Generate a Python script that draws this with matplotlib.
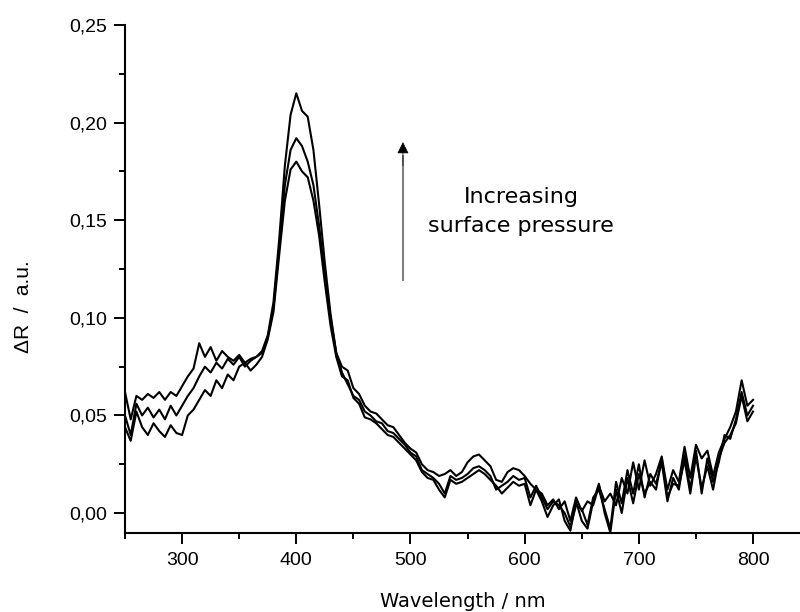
import numpy as np
import matplotlib.pyplot as plt
from matplotlib.ticker import MultipleLocator, FuncFormatter

# wavelength grid (nm)
wl = np.arange(250, 801, 5)

# three reflectance-difference spectra
dr_top = [0.062, 0.048, 0.060, 0.058, 0.061, 0.059, 0.062, 0.058, 0.062, 0.060,
          0.065, 0.070, 0.074, 0.087, 0.080, 0.085, 0.078, 0.083, 0.080, 0.078,
          0.081, 0.077, 0.079, 0.080, 0.083, 0.091, 0.108, 0.140, 0.178, 0.204,
          0.215, 0.206, 0.203, 0.186, 0.158, 0.128, 0.102, 0.082, 0.075, 0.073,
          0.064, 0.061, 0.055, 0.052, 0.051, 0.048, 0.045, 0.044, 0.040, 0.036,
          0.033, 0.031, 0.025, 0.022, 0.021, 0.019, 0.020, 0.022, 0.019, 0.021,
          0.026, 0.029, 0.030, 0.027, 0.024, 0.017, 0.016, 0.021, 0.023, 0.022,
          0.019, 0.015, 0.012, 0.010, 0.004, 0.007, 0.002, 0.006, -0.004, 0.008,
          0.001, 0.006, 0.004, 0.014, 0.006, 0.010, 0.004, 0.018, 0.010, 0.026,
          0.012, 0.027, 0.014, 0.020, 0.029, 0.012, 0.022, 0.016, 0.034, 0.018,
          0.035, 0.028, 0.032, 0.019, 0.031, 0.038, 0.044, 0.052, 0.068, 0.055,
          0.058]
dr_mid = [0.050, 0.040, 0.056, 0.050, 0.054, 0.049, 0.053, 0.048, 0.055, 0.050,
          0.055, 0.060, 0.064, 0.070, 0.075, 0.072, 0.077, 0.074, 0.079, 0.076,
          0.080, 0.075, 0.078, 0.080, 0.082, 0.090, 0.105, 0.136, 0.168, 0.186,
          0.192, 0.188, 0.180, 0.168, 0.147, 0.122, 0.100, 0.082, 0.072, 0.066,
          0.060, 0.058, 0.052, 0.050, 0.047, 0.046, 0.042, 0.041, 0.038, 0.035,
          0.031, 0.029, 0.022, 0.020, 0.018, 0.015, 0.010, 0.019, 0.017, 0.018,
          0.020, 0.023, 0.024, 0.022, 0.019, 0.012, 0.014, 0.016, 0.019, 0.017,
          0.018, 0.008, 0.014, 0.008, 0.002, 0.006, 0.004, 0.000, -0.007, 0.004,
          0.002, -0.006, 0.008, 0.012, 0.002, -0.008, 0.016, 0.005, 0.022, 0.010,
          0.025, 0.008, 0.020, 0.015, 0.026, 0.006, 0.018, 0.012, 0.030, 0.012,
          0.032, 0.010, 0.028, 0.016, 0.026, 0.040, 0.038, 0.048, 0.062, 0.050,
          0.055]
dr_low = [0.044, 0.037, 0.052, 0.044, 0.040, 0.046, 0.042, 0.039, 0.045, 0.041,
          0.040, 0.050, 0.053, 0.058, 0.063, 0.060, 0.068, 0.064, 0.071, 0.068,
          0.075, 0.077, 0.073, 0.076, 0.080, 0.089, 0.103, 0.132, 0.160, 0.176,
          0.180, 0.175, 0.172, 0.160, 0.142, 0.118, 0.096, 0.080, 0.070, 0.068,
          0.059, 0.056, 0.049, 0.048, 0.046, 0.043, 0.040, 0.039, 0.036, 0.033,
          0.030, 0.027, 0.021, 0.018, 0.017, 0.012, 0.008, 0.017, 0.015, 0.016,
          0.018, 0.020, 0.022, 0.020, 0.017, 0.014, 0.010, 0.013, 0.016, 0.014,
          0.015, 0.004, 0.012, 0.006, -0.002, 0.004, 0.007, -0.004, -0.009, 0.006,
          -0.004, -0.008, 0.006, 0.015, 0.000, -0.010, 0.012, 0.000, 0.018, 0.005,
          0.020, 0.010, 0.016, 0.012, 0.028, 0.008, 0.015, 0.014, 0.027, 0.010,
          0.029, 0.013, 0.024, 0.012, 0.028, 0.036, 0.040, 0.046, 0.060, 0.047,
          0.052]

fig = plt.figure(figsize=(8, 6.12), dpi=100)
ax = fig.add_axes([0.15625, 0.1291, 0.84375, 0.8301])

for dr in (dr_top, dr_mid, dr_low):
    ax.plot(wl, dr, color='black', linewidth=1.5)

ax.set_xlim(250, 841.1)
ax.set_ylim(-0.0102, 0.25)

ax.spines['top'].set_visible(False)
ax.spines['right'].set_visible(False)
for s in ('left', 'bottom'):
    ax.spines[s].set_linewidth(1.5)

ax.xaxis.set_major_locator(MultipleLocator(100))
ax.xaxis.set_minor_locator(MultipleLocator(50))
ax.yaxis.set_major_locator(MultipleLocator(0.05))
ax.yaxis.set_minor_locator(MultipleLocator(0.025))
ax.yaxis.set_major_formatter(FuncFormatter(lambda v, p: f'{v:.2f}'.replace('.', ',')))
ax.xaxis.set_major_formatter(FuncFormatter(lambda v, p: f'{v:.0f}'))

ax.tick_params(which='major', direction='out', length=8, width=1.4,
               labelsize=14, labelfontfamily='Liberation Sans')
ax.tick_params(which='minor', direction='out', length=4.5, width=1.4)
ax.tick_params(axis='y', which='major', pad=5)
ax.tick_params(axis='x', which='major', pad=6)

ax.set_xlabel('Wavelength / nm', fontsize=14, labelpad=16)
ax.set_ylabel('ΔR  /  a.u.', fontsize=15, family='Liberation Sans')
ax.yaxis.set_label_coords(-0.137, 0.445)

# arrow: grey shaft, black head
ax.plot([493.4, 493.4], [0.1194, 0.183], color='gray', linewidth=1.5)
ax.annotate('', xy=(493.4, 0.190), xytext=(493.4, 0.178),
            arrowprops=dict(arrowstyle='-|>', color='black', lw=0.5,
                            mutation_scale=18, shrinkA=0, shrinkB=0))

ax.text(597, 0.1545, 'Increasing\nsurface pressure', fontsize=16,
        ha='center', va='center', linespacing=1.6)

fig.savefig('out.png', dpi=100)
